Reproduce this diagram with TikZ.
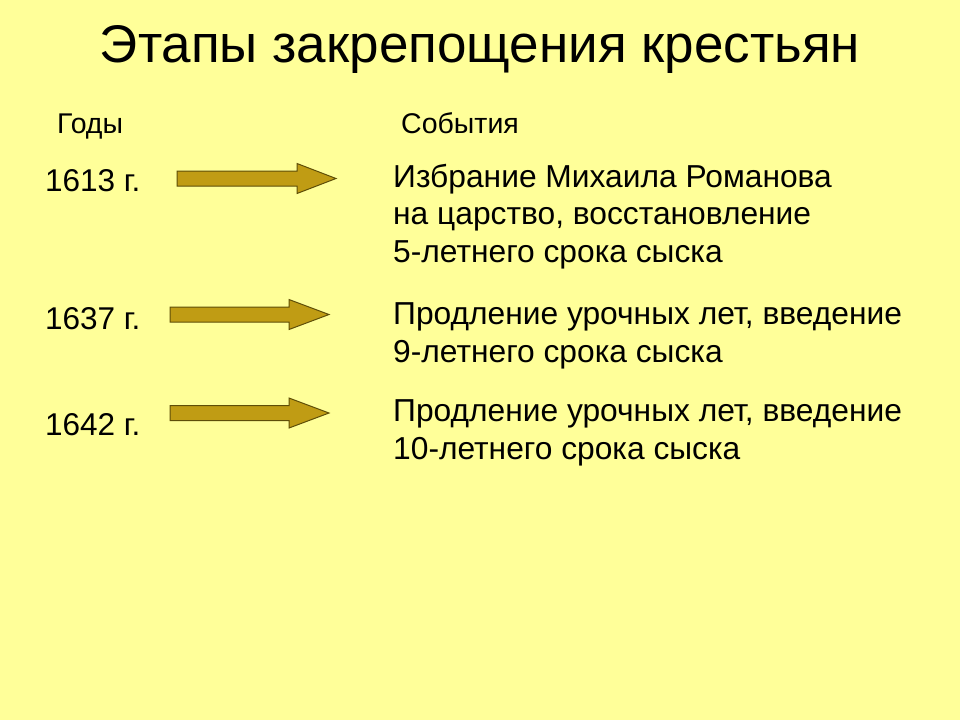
\documentclass[tikz,border=0pt]{standalone}
\usepackage{fontspec}
\setmainfont{Liberation Sans}
\usepackage{xcolor}
\definecolor{slidebg}{HTML}{FFFF99}
\definecolor{arrowfill}{HTML}{C09C14}
\definecolor{arrowline}{HTML}{5E4E08}
\tikzset{
    titletext/.style={anchor=base, inner sep=0pt, font=\fontsize{53}{62}\selectfont},
    headtext/.style={anchor=base west, inner sep=0pt, font=\fontsize{28.5}{33}\selectfont},
    yeartext/.style={anchor=base west, inner sep=0pt, font=\fontsize{31.5}{38}\selectfont},
    eventtext/.style={anchor=base west, inner sep=0pt, align=left, font=\fontsize{31.75}{37.5}\selectfont},
    blockarrow/.style={fill=arrowfill, draw=arrowline, line width=1pt, line join=miter}
}

\begin{document}
\begin{tikzpicture}[x=1pt, y=-1pt]
        \fill[slidebg] (0, 0) rectangle (960, 720);
        \useasboundingbox (0, 0) rectangle (960, 720);

        \node[titletext] (title) at (480, 62) {Этапы закрепощения крестьян};

        \node[headtext] (years) at (57, 133) {Годы};
        \node[headtext] (events) at (401, 133) {События};

        \node[yeartext] (y1613) at (45, 191) {1613 г.};
        \node[yeartext] (y1637) at (45, 329) {1637 г.};
        \node[yeartext] (y1642) at (45, 435) {1642 г.};

        % arrows: tail x, head x, tip x, mid y
        \foreach \tl/\hd/\tp/\my in {177/297/336/178.5, 170/289/329/314.5, 170/289/329/413}
            \draw[blockarrow] (\tl, \my-7.5) -- (\hd, \my-7.5) -- (\hd, \my-15) -- (\tp, \my)
                -- (\hd, \my+15) -- (\hd, \my+7.5) -- (\tl, \my+7.5) -- cycle;

        % base of a multi-line node is its last line
        \node[eventtext] (e1613) at (393, 262) {Избрание Михаила Романова\\на царство, восстановление\\5-летнего срока сыска};
        \node[eventtext] (e1637) at (393, 362) {Продление урочных лет, введение\\9-летнего срока сыска};
        \node[eventtext] (e1642) at (393, 459) {Продление урочных лет, введение\\10-летнего срока сыска};
    \end{tikzpicture}
\end{document}
